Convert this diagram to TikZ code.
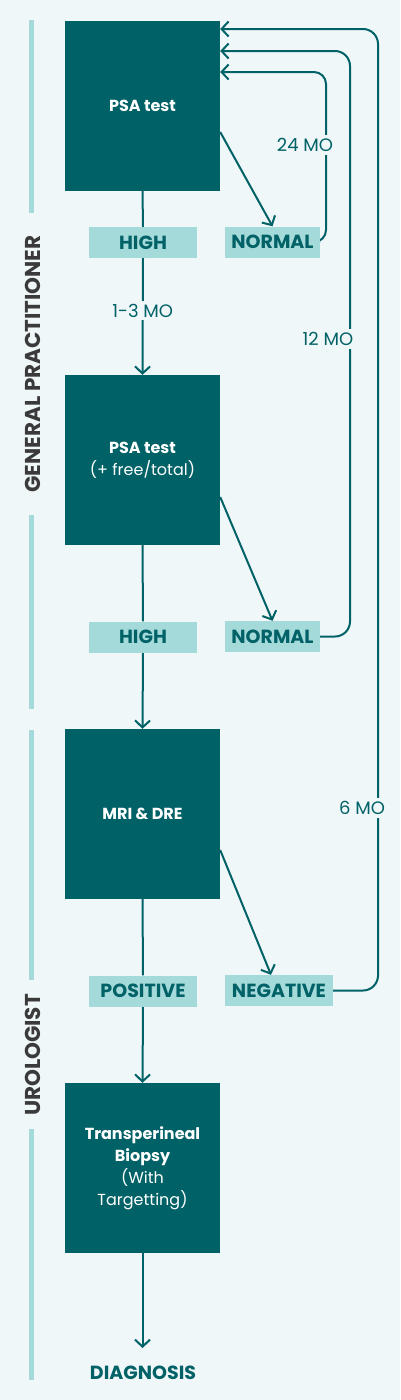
\documentclass[tikz,border=0pt]{standalone}
\usepackage{fontspec}
\setmainfont{Poppins}
\usetikzlibrary{arrows.meta,calc}
\definecolor{bgc}{HTML}{F0F7F9}
\definecolor{dteal}{HTML}{006166}
\definecolor{lteal}{HTML}{A5DADB}
\definecolor{lanetext}{HTML}{3A3A3A}
\pgfdeclarelayer{back}
\pgfdeclarelayer{lines}
\pgfsetlayers{back,lines,main}
\tikzset{
  stepbox/.style={fill=dteal, draw=none, minimum width=155pt, minimum height=170pt, inner sep=0pt,
    text=white, align=center, font=\bfseries\fontsize{16}{22}\selectfont},
  tagbox/.style={fill=lteal, draw=none, minimum height=31pt, inner sep=0pt,
    text=dteal, font=\bfseries\fontsize{19}{20}\selectfont},
  conn/.style={draw=dteal, line width=2pt},
  arr/.style={conn, -{Straight Barb[length=7pt,width=15pt,line width=2pt]}},
  loop/.style={arr, rounded corners=15pt},
  molabel/.style={fill=bgc, inner sep=3pt, text=dteal, font=\fontsize{18}{20}\selectfont},
  lane/.style={draw=lteal, line width=5pt},
  lanelabel/.style={rotate=90, text=lanetext, font=\bfseries\fontsize{21.5}{24}\selectfont},
}
\begin{document}
\begin{tikzpicture}[x=1pt,y=-1pt]
\begin{pgfonlayer}{back}
\fill[bgc] (0,0) rectangle (400,1400);
\end{pgfonlayer}
\useasboundingbox (0,0) rectangle (400,1400);

% lanes
\draw[lane] (31.5,20) -- (31.5,213);
\draw[lane] (31.5,515) -- (31.5,709);
\draw[lane] (31.5,730) -- (31.5,980);
\draw[lane] (31.5,1129) -- (31.5,1380);
\node[lanelabel] (gp) at (32.5,364) {GENERAL PRACTITIONER};
\node[lanelabel] (uro) at (32.5,1055) {UROLOGIST};

% steps
\node[stepbox] (b1) at (142.5,106) {PSA test};
\node[stepbox] (b2) at (142.5,460) {PSA test\\{\mdseries (+ free/total)}};
\node[stepbox] (b3) at (142.5,814) {MRI \& DRE};
\node[stepbox] (b4) at (142.5,1168) {Transperineal\\Biopsy\\{\mdseries (With}\\{\mdseries Targetting)}};

% tags
\node[tagbox, minimum width=108pt] (h1) at (143,242.5) {HIGH};
\node[tagbox, minimum width=95pt] (n1) at (272.5,242) {NORMAL};
\node[tagbox, minimum width=108pt] (h2) at (143,637) {HIGH};
\node[tagbox, minimum width=95pt] (n2) at (272.5,636.5) {NORMAL};
\node[tagbox, minimum width=108pt] (pos) at (143,991) {POSITIVE};
\node[tagbox, minimum width=108pt] (neg) at (279,990.5) {NEGATIVE};
\node[text=dteal, font=\bfseries\fontsize{19}{20}\selectfont] (dx) at (143,1373) {DIAGNOSIS};
\coordinate (dxin) at (142.5,1348);

\coordinate (c24) at (326,72);
\coordinate (c12) at (350,51);
\coordinate (c6) at (378,29);

\begin{pgfonlayer}{lines}
\draw[conn] (b1.south) -- (h1.north);
\draw[arr] (h1.south) -- (b2.north) node[molabel, pos=0.45] (l13) {1-3 MO};
\draw[conn] (b2.south) -- (h2.north);
\draw[arr] (h2.south) -- (b3.north);
\draw[conn] (b3.south) -- (pos.north);
\draw[arr] (pos.south) -- (b4.north);
\draw[arr] (b4.south) -- (dxin);

\draw[arr] ([yshift=-26pt]b1.east) -- (n1.north);
\draw[arr] ([yshift=-37pt]b2.east) -- (n2.north);
\draw[arr] ([yshift=-36pt]b3.east) -- ([xshift=-8pt]neg.north);

\draw[arr, rounded corners=12pt] (n1.east) -| (c24) -- (b1.east |- c24);
\draw[loop] (n2.east) -| (c12) -- (b1.east |- c12);
\draw[loop] (neg.east) -| (c6) -- (b1.east |- c6);
\end{pgfonlayer}
\node[molabel] (l24) at (305,145) {24 MO};
\node[molabel] (l12) at (328,339) {12 MO};
\node[molabel] (l6) at (362,808) {6 MO};
\end{tikzpicture}
\end{document}
